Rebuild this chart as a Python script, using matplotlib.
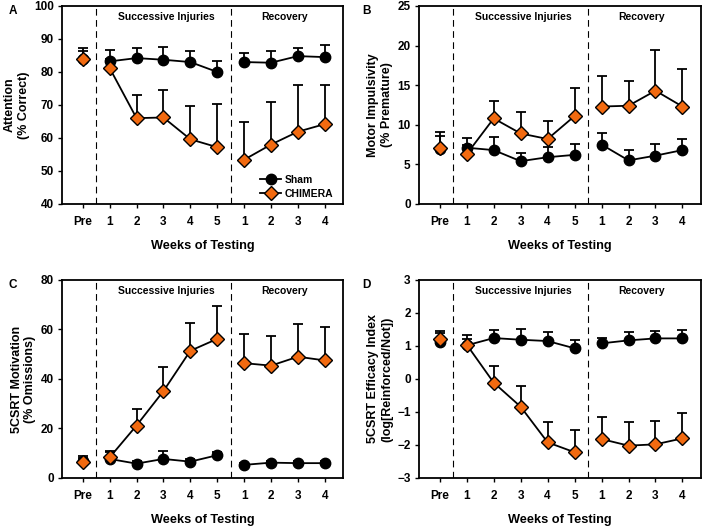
import numpy as np
import matplotlib
matplotlib.use('Agg')
import matplotlib.pyplot as plt
from matplotlib.lines import Line2D

plt.rcParams['font.family'] = ['Liberation Sans', 'DejaVu Sans']
plt.rcParams['font.weight'] = 'bold'

xlabels = ['Pre', '1', '2', '3', '4', '5', '1', '2', '3', '4']
xpos = np.arange(10)
ORANGE = '#F26A10'

# values: Pre, injury weeks 1-5, recovery weeks 1-4 ; *_top = top of error bar
att_sham = [84.0, 83.2, 84.2, 83.7, 83.0, 80.0, 83.0, 82.8, 84.8, 84.5]
att_sham_top = [87.3, 86.8, 87.2, 87.5, 86.3, 83.3, 85.7, 86.2, 87.4, 88.1]
att_chim = [84.0, 81.2, 66.0, 66.2, 59.6, 57.2, 53.4, 58.0, 61.9, 64.2]
att_chim_top = [86.5, 84.0, 73.0, 74.6, 69.6, 70.3, 64.7, 71.0, 76.0, 76.1]

imp_sham = [7.0, 7.1, 6.8, 5.4, 5.9, 6.2, 7.5, 5.5, 6.1, 6.8]
imp_sham_top = [8.6, 8.3, 8.4, 6.4, 7.2, 7.6, 8.9, 6.8, 7.6, 8.2]
imp_chim = [7.1, 6.3, 10.8, 8.9, 8.2, 11.1, 12.3, 12.4, 14.3, 12.3]
imp_chim_top = [9.1, 7.5, 13.0, 11.6, 10.5, 14.6, 16.2, 15.5, 19.4, 17.0]

mot_sham = [6.8, 7.7, 5.8, 7.7, 6.6, 9.2, 5.3, 6.2, 6.0, 6.0]
mot_sham_top = [8.7, 10.8, 6.8, 10.9, 7.5, 10.5, 6.0, 7.0, 6.8, 6.8]
mot_chim = [6.3, 8.3, 21.2, 35.1, 51.4, 56.2, 46.4, 45.4, 49.0, 47.5]
mot_chim_top = [8.0, 10.5, 27.7, 44.8, 62.7, 69.4, 58.1, 57.3, 62.1, 61.0]

eff_sham = [1.12, 1.02, 1.24, 1.19, 1.15, 0.93, 1.08, 1.17, 1.23, 1.23]
eff_sham_top = [1.45, 1.32, 1.48, 1.52, 1.42, 1.17, 1.24, 1.42, 1.45, 1.48]
eff_chim = [1.22, 1.04, -0.11, -0.84, -1.92, -2.22, -1.82, -2.02, -1.98, -1.80]
eff_chim_top = [1.40, 1.20, 0.39, -0.20, -1.30, -1.55, -1.15, -1.30, -1.28, -1.02]

panels = [
    ('A', [0.0876, 0.613, 0.397, 0.3757], 'Attention\n(% Correct)', (40, 100), 10,
     att_sham, att_sham_top, att_chim, att_chim_top, True),
    ('B', [0.5918, 0.613, 0.398, 0.3757], 'Motor Impulsivity\n(% Premature)', (0, 25), 5,
     imp_sham, imp_sham_top, imp_chim, imp_chim_top, False),
    ('C', [0.0876, 0.093, 0.397, 0.3757], '5CSRT Motivation\n(% Omissions)', (0, 80), 20,
     mot_sham, mot_sham_top, mot_chim, mot_chim_top, False),
    ('D', [0.5918, 0.093, 0.398, 0.3757], '5CSRT Efficacy Index\n(log[Reinforced/Not])', (-3, 3), 1,
     eff_sham, eff_sham_top, eff_chim, eff_chim_top, False),
]

segments = [slice(0, 1), slice(1, 6), slice(6, 10)]

fig = plt.figure(figsize=(7.08, 5.27), dpi=100)

for letter, rect, ylab, ylim, step, s, s_top, c, c_top, legend in panels:
    ax = fig.add_axes(rect)
    s = np.array(s); s_top = np.array(s_top)
    c = np.array(c); c_top = np.array(c_top)

    # upper error bars only
    for y, top in [(s, s_top), (c, c_top)]:
        ax.errorbar(xpos, y, yerr=[np.zeros_like(y), top - y], fmt='none',
                    ecolor='black', elinewidth=1.3, capsize=3.8, capthick=1.3, zorder=3)

    for seg in segments:
        ax.plot(xpos[seg], s[seg], '-o', color='black', markersize=7.5,
                linewidth=1.3, zorder=4)
    for seg in segments:
        ax.plot(xpos[seg], c[seg], '-D', color='black', markerfacecolor=ORANGE,
                markeredgecolor='black', markeredgewidth=1.0, markersize=7,
                linewidth=1.3, zorder=5)

    ax.axvline(0.5, color='black', linestyle=(0, (6, 4)), linewidth=0.8)
    ax.axvline(5.5, color='black', linestyle=(0, (6, 4)), linewidth=0.8)

    ax.set_xlim(-0.77, 9.68)
    ax.set_ylim(*ylim)
    ax.set_yticks(np.arange(ylim[0], ylim[1] + step / 2, step))
    ax.set_xticks(xpos)
    ax.set_xticklabels(xlabels)
    ax.tick_params(axis='y', direction='out', length=3, width=1,
                   labelsize=8.5, pad=3)
    ax.tick_params(axis='x', direction='out', length=3, width=1,
                   labelsize=8.5, pad=6)
    for t in ax.get_xticklabels() + ax.get_yticklabels():
        t.set_fontweight('bold')
    for sp in ax.spines.values():
        sp.set_linewidth(1.3)

    ax.set_ylabel(ylab, fontsize=9, fontweight='bold', labelpad=3)
    ax.set_xlabel('Weeks of Testing', fontsize=9.2, fontweight='bold', labelpad=8)

    ytxt = ylim[1] - (ylim[1] - ylim[0]) * 0.055
    ax.text(3.1, ytxt, 'Successive Injuries', ha='center', va='center',
            fontsize=7.5, fontweight='bold')
    ax.text(7.5, ytxt, 'Recovery', ha='center', va='center',
            fontsize=7.5, fontweight='bold')

    if legend:
        handles = [
            Line2D([], [], color='black', marker='o', markersize=7.5, linewidth=1.3),
            Line2D([], [], color='black', marker='D', markerfacecolor=ORANGE,
                   markeredgecolor='black', markersize=7, linewidth=1.3),
        ]
        ax.legend(handles, ['Sham', 'CHIMERA'], loc='lower right',
                  bbox_to_anchor=(1.0, -0.02), frameon=False,
                  prop={'size': 7.5, 'weight': 'bold'}, handlelength=2.0,
                  labelspacing=0.35, handletextpad=0.4)

    fx = 0.012 if rect[0] < 0.5 else 0.512
    fy = rect[1] + rect[3] + 0.002
    fig.text(fx, fy, letter, fontsize=8.5, fontweight='bold', va='top')

fig.savefig('out.png', dpi=100)
